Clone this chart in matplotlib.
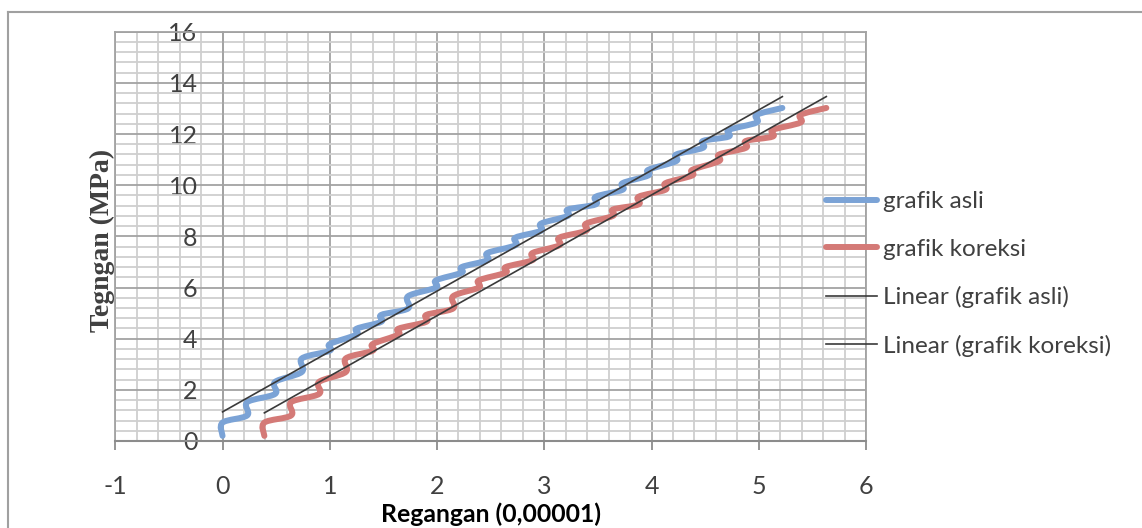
import numpy as np
import matplotlib
matplotlib.use("Agg")
import matplotlib.pyplot as plt
from matplotlib.path import Path
from matplotlib.patches import PathPatch
from matplotlib.lines import Line2D

# ---- data ----
strain_asli = [0.00, 0.00, 0.23, 0.23, 0.49, 0.49, 0.74, 0.74, 1.00, 1.00,
               1.25, 1.25, 1.48, 1.48, 1.73, 1.73, 1.99, 1.99, 2.23, 2.23,
               2.47, 2.47, 2.73, 2.73, 2.97, 2.97, 3.22, 3.22, 3.48, 3.48,
               3.73, 3.73, 3.97, 3.97, 4.23, 4.23, 4.48, 4.48, 4.72, 4.72,
               4.98, 4.98, 5.22]
strain_koreksi = [0.39, 0.39, 0.64, 0.64, 0.90, 0.90, 1.15, 1.15, 1.40, 1.40,
                  1.64, 1.64, 1.90, 1.90, 2.15, 2.15, 2.39, 2.39, 2.64, 2.64,
                  2.89, 2.89, 3.14, 3.14, 3.39, 3.39, 3.64, 3.64, 3.88, 3.88,
                  4.13, 4.13, 4.38, 4.38, 4.63, 4.63, 4.88, 4.88, 5.13, 5.13,
                  5.39, 5.39, 5.63]
stress = [0.20, 0.72, 1.00, 1.52, 1.84, 2.31, 2.70, 3.23, 3.53, 3.79,
          4.16, 4.39, 4.66, 4.93, 5.18, 5.66, 6.00, 6.28, 6.58, 6.80,
          7.07, 7.35, 7.65, 7.95, 8.22, 8.50, 8.80, 9.05, 9.25, 9.55,
          9.82, 10.08, 10.38, 10.60, 10.94, 11.20, 11.46, 11.73, 11.90, 12.16,
          12.45, 12.75, 13.02]

series_labels = ["grafik asli", "grafik koreksi",
                 "Linear (grafik asli)", "Linear (grafik koreksi)"]
x_ticks = [-1, 0, 1, 2, 3, 4, 5, 6]
y_ticks = [0, 2, 4, 6, 8, 10, 12, 14, 16]

BLUE = "#7ba3d6"
RED = "#d47a77"
TREND = "#3a3a3a"
TXT = "#404040"

FONT = "Lato"

fig = plt.figure(figsize=(11.42, 5.28), dpi=100)
ax = fig.add_axes([115.3 / 1142, 1 - 441 / 528, (866 - 115.3) / 1142, (441 - 31.7) / 528])

ax.set_xlim(-1, 6)
ax.set_ylim(0, 16)
ax.set_xticks(x_ticks)
ax.set_xticks(np.arange(-1, 6.001, 0.2), minor=True)
ax.set_yticks(y_ticks)
ax.set_yticks(np.arange(0, 16.001, 0.4), minor=True)

ax.grid(which="minor", color="#cfcfcf", lw=1.3, zorder=0)
ax.grid(which="major", color="#a3a3a3", lw=1.3, zorder=0)
ax.set_axisbelow(True)


def smooth_path(xs, ys):
    pts = np.column_stack([xs, ys]).astype(float)
    n = len(pts)
    verts = [pts[0]]
    codes = [Path.MOVETO]
    for i in range(n - 1):
        p0 = pts[i - 1] if i > 0 else pts[i]
        p1 = pts[i]
        p2 = pts[i + 1]
        p3 = pts[i + 2] if i + 2 < n else pts[i + 1]
        c1 = p1 + (p2 - p0) / 6.0
        c2 = p2 - (p3 - p1) / 6.0
        verts += [c1, c2, p2]
        codes += [Path.CURVE4] * 3
    return Path(verts, codes)


for xs, col in [(strain_asli, BLUE), (strain_koreksi, RED)]:
    patch = PathPatch(smooth_path(xs, stress), fill=False, edgecolor=col,
                      lw=4.3, capstyle="round", joinstyle="round", zorder=3)
    ax.add_patch(patch)

for xs in [strain_asli, strain_koreksi]:
    k, b = np.polyfit(xs, stress, 1)
    xr = np.array([min(xs), max(xs)])
    ax.plot(xr, k * xr + b, color=TREND, lw=1.2, zorder=4)

# spines
for s in ["top", "right"]:
    ax.spines[s].set_color("#a3a3a3")
    ax.spines[s].set_linewidth(1.3)
ax.spines["left"].set_position(("data", 0))
ax.spines["left"].set_color("#a3a3a3")
ax.spines["left"].set_linewidth(1.3)
ax.spines["bottom"].set_color("#8c8c8c")
ax.spines["bottom"].set_linewidth(1.5)
ax.plot([-1, -1], [0, 16], color="#a3a3a3", lw=1.3, clip_on=False, zorder=1)

ax.tick_params(axis="x", which="major", direction="out", length=6.5, width=1.3,
               color="#8c8c8c", pad=18, labelsize=18, labelcolor=TXT)
ax.tick_params(axis="x", which="minor", length=0)
ax.tick_params(axis="y", which="both", length=0, pad=18, labelsize=18, labelcolor=TXT)
ax.set_xticklabels([str(v) for v in x_ticks], fontfamily=FONT)
ax.set_yticklabels([str(v) for v in y_ticks], fontfamily=FONT)

fig.text(490.7 / 1142, 1 - 514 / 528, "Regangan (0,00001)", ha="center", va="center",
         fontsize=17.8, fontweight="bold", fontfamily=FONT, color="black")
fig.text(102 / 1142, 1 - 240 / 528, "Tegngan (MPa)", ha="center", va="center",
         rotation=90, fontsize=20, fontweight="bold", fontfamily="Liberation Serif",
         color="#404040")

handles = [Line2D([], [], color=BLUE, lw=4.3, solid_capstyle="round"),
           Line2D([], [], color=RED, lw=4.3, solid_capstyle="round"),
           Line2D([], [], color=TREND, lw=1.2),
           Line2D([], [], color=TREND, lw=1.2)]
leg = fig.legend(handles, series_labels, loc="upper left",
                 bbox_to_anchor=(826 / 1142, 1 - 191 / 528), frameon=False,
                 prop={"family": FONT, "size": 17.5}, handlelength=2.1,
                 handletextpad=0.25, labelspacing=1.09, borderaxespad=0, borderpad=0)
for t in leg.get_texts():
    t.set_color(TXT)

# outer chart border
fig.add_artist(Line2D([8 / 1142, 8 / 1142], [0, 1 - 12 / 528], transform=fig.transFigure,
                      color="#a0a0a0", lw=1.5))
fig.add_artist(Line2D([8 / 1142, 1], [1 - 12 / 528, 1 - 12 / 528], transform=fig.transFigure,
                      color="#a0a0a0", lw=1.5))

fig.savefig("out.png", dpi=100)
